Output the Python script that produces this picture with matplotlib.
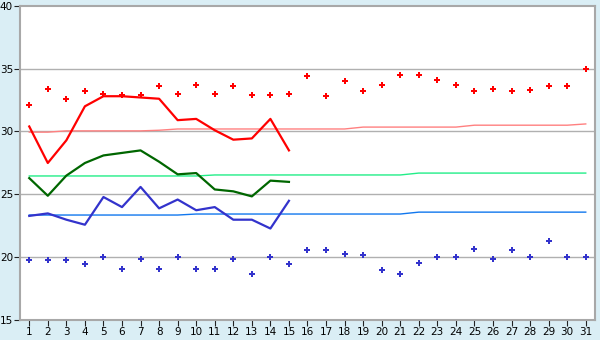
#daily temperatures for one month, observed vs normal
import matplotlib.pyplot as plt

days = list(range(1, 32))
obs_days = list(range(1, 16))

# daily extremes (diamonds)
high_pts = [32.1, 33.4, 32.6, 33.2, 33.0, 32.9, 32.9, 33.6, 33.0, 33.7,
            33.0, 33.6, 32.9, 32.9, 33.0, 34.4, 32.8, 34.0, 33.2, 33.7,
            34.5, 34.5, 34.1, 33.7, 33.2, 33.4, 33.2, 33.3, 33.6, 33.6, 35.0]
low_pts = [19.8, 19.8, 19.8, 19.5, 20.0, 19.1, 19.9, 19.1, 20.0, 19.1,
           19.1, 19.9, 18.7, 20.0, 19.5, 20.6, 20.6, 20.3, 20.2, 19.0,
           18.7, 19.6, 20.0, 20.0, 20.7, 19.85, 20.6, 20.0, 21.3, 20.0, 20.0]

# observed max / mean / min lines
max_line = [30.4, 27.5, 29.3, 32.0, 32.8, 32.8, 32.7, 32.6, 30.9, 31.0,
            30.1, 29.35, 29.45, 31.0, 28.5]
mean_line = [26.3, 24.9, 26.5, 27.5, 28.1, 28.3, 28.5, 27.6, 26.6, 26.7,
             25.4, 25.25, 24.85, 26.1, 26.0]
min_line = [23.3, 23.5, 23.0, 22.6, 24.8, 24.0, 25.6, 23.9, 24.6, 23.75,
            24.0, 23.0, 23.0, 22.3, 24.5]

# normals
norm_max = [29.95, 29.95, 30.05, 30.05, 30.05, 30.05, 30.05, 30.1, 30.2, 30.2,
            30.2, 30.2, 30.2, 30.2, 30.2, 30.2, 30.2, 30.2, 30.35, 30.35,
            30.35, 30.35, 30.35, 30.35, 30.5, 30.5, 30.5, 30.5, 30.5, 30.5, 30.6]
norm_mean = [26.47] * 10 + [26.55] * 11 + [26.7] * 10
norm_min = [23.37] * 9 + [23.45] * 12 + [23.6] * 10

fig = plt.figure(figsize=(6, 3.4), dpi=100, facecolor='#daeef5')
ax = fig.add_axes([0.0333, 0.0574, 0.9584, 0.9264])
ax.set_facecolor('white')

# grid
for g in [20, 25, 30, 35]:
    ax.axhline(g, color='#b0b0b0', lw=1, zorder=0)

ax.plot(days, norm_max, color='#ff8080', lw=1, zorder=2)
ax.plot(days, norm_mean, color='#22ee88', lw=1, zorder=2)
ax.plot(days, norm_min, color='#1177ee', lw=1, zorder=2)

ax.plot(obs_days, max_line, color='#ff0000', lw=1.6, zorder=3)
ax.plot(obs_days, mean_line, color='#006600', lw=1.6, zorder=3)
ax.plot(obs_days, min_line, color='#3333cc', lw=1.6, zorder=3)

ax.plot(days, high_pts, ls='none', marker='P', ms=5, color='#ff0000', mew=0, zorder=4)
ax.plot(days, low_pts, ls='none', marker='P', ms=5, color='#3333cc', mew=0, zorder=4)

ax.set_xlim(0.5, 31.5)
ax.set_ylim(15, 40)
ax.set_xticks(days)
ax.set_yticks([15, 20, 25, 30, 35, 40])
ax.tick_params(axis='both', labelsize=7.5, length=4, color='#222222', pad=1)

for side in ['top', 'right', 'left', 'bottom']:
    ax.spines[side].set_color('#a8a8a8')
    ax.spines[side].set_linewidth(1.5)

fig.savefig('out.png', dpi=100, facecolor=fig.get_facecolor())
